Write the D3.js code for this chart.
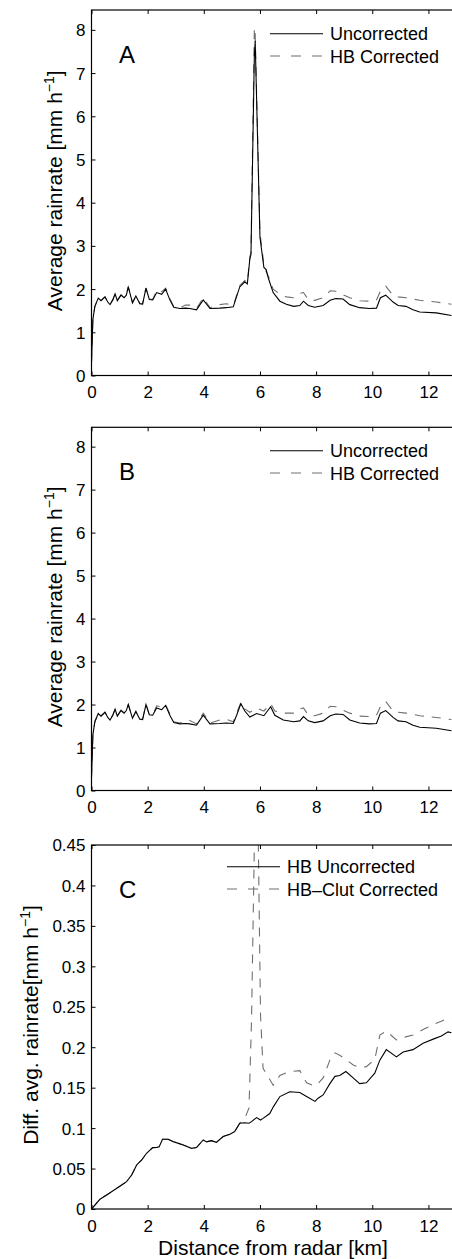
<!DOCTYPE html>
<html>
<head>
<meta charset="utf-8">
<script src="https://cdn.jsdelivr.net/npm/d3@7"></script>
<style>
  html, body { margin: 0; padding: 0; background: #fff; }
  svg { display: block; font-family: "Liberation Sans", Arial, sans-serif; }
</style>
</head>
<body>
<svg id="chart" width="452" height="1259"></svg>
<script>
// ---------------- DATA ----------------
const xTicks = [0, 2, 4, 6, 8, 10, 12];
const yTicksAB = [0, 1, 2, 3, 4, 5, 6, 7, 8];
const yTicksC = [0, 0.05, 0.1, 0.15, 0.2, 0.25, 0.3, 0.35, 0.4, 0.45];

// Panel A
const aDist = [0, 0.05, 0.12, 0.24, 0.34, 0.48, 0.58, 0.66, 0.76, 0.84, 0.92, 1.05, 1.16, 1.24, 1.31, 1.46, 1.58, 1.72, 1.82, 1.94, 2.06, 2.18, 2.32, 2.5, 2.64, 2.79, 2.93, 3.15, 3.35, 3.5, 3.74, 3.98, 4.22, 4.57, 4.8, 5.05, 5.28, 5.46, 5.55, 5.64, 5.68, 5.8, 5.83, 6.0, 6.06, 6.14, 6.22, 6.3, 6.47, 6.71, 6.94, 7.2, 7.42, 7.55, 7.72, 7.95, 8.25, 8.5, 8.7, 8.96, 9.2, 9.55, 9.9, 10.15, 10.29, 10.48, 10.74, 10.92, 11.2, 11.45, 11.69, 12.28, 12.82];
const aUncorr = [0.3, 1.3, 1.6, 1.79, 1.73, 1.82, 1.7, 1.64, 1.75, 1.89, 1.73, 1.86, 1.8, 1.86, 2.05, 1.68, 1.84, 1.66, 1.65, 2.02, 1.76, 1.75, 1.92, 1.88, 2.0, 1.75, 1.58, 1.55, 1.56, 1.55, 1.52, 1.75, 1.55, 1.56, 1.57, 1.59, 2.05, 2.17, 2.12, 2.7, 2.8, 7.4, 7.75, 3.2, 2.9, 2.5, 2.45, 2.25, 1.92, 1.72, 1.65, 1.6, 1.62, 1.72, 1.62, 1.58, 1.62, 1.74, 1.78, 1.77, 1.64, 1.57, 1.55, 1.56, 1.8, 1.86, 1.7, 1.62, 1.6, 1.52, 1.47, 1.45, 1.39];
const aCorr = [0.3, 1.3, 1.6, 1.79, 1.74, 1.82, 1.7, 1.65, 1.76, 1.89, 1.74, 1.87, 1.81, 1.87, 2.05, 1.69, 1.84, 1.67, 1.66, 2.03, 1.77, 1.76, 1.97, 1.94, 2.02, 1.78, 1.6, 1.57, 1.63, 1.63, 1.55, 1.8, 1.57, 1.64, 1.66, 1.62, 2.08, 2.2, 2.15, 2.75, 2.85, 8.05, 7.9, 3.3, 3.0, 2.55, 2.4, 2.3, 2.0, 1.88, 1.82, 1.8, 1.9, 1.92, 1.76, 1.74, 1.8, 1.96, 1.95, 1.87, 1.8, 1.73, 1.72, 1.75, 1.95, 2.07, 1.85, 1.82, 1.8, 1.77, 1.74, 1.7, 1.65];

// Panel B
const bDist = [0, 0.05, 0.12, 0.24, 0.34, 0.48, 0.58, 0.66, 0.76, 0.84, 0.92, 1.05, 1.16, 1.24, 1.31, 1.46, 1.58, 1.72, 1.82, 1.94, 2.06, 2.18, 2.32, 2.5, 2.64, 2.79, 2.93, 3.15, 3.35, 3.5, 3.74, 3.98, 4.22, 4.57, 4.8, 5.05, 5.17, 5.32, 5.46, 5.64, 5.88, 6.14, 6.38, 6.53, 6.83, 7.2, 7.42, 7.55, 7.72, 7.95, 8.25, 8.5, 8.7, 8.96, 9.2, 9.55, 9.9, 10.15, 10.29, 10.48, 10.74, 10.92, 11.2, 11.45, 11.69, 12.28, 12.82];
const bUncorr = [0.3, 1.3, 1.6, 1.79, 1.73, 1.82, 1.7, 1.64, 1.75, 1.89, 1.73, 1.86, 1.8, 1.86, 2.0, 1.68, 1.84, 1.66, 1.65, 2.0, 1.76, 1.75, 1.92, 1.88, 1.98, 1.75, 1.58, 1.55, 1.56, 1.55, 1.52, 1.75, 1.55, 1.56, 1.57, 1.56, 1.75, 2.02, 1.85, 1.71, 1.79, 1.74, 1.95, 1.75, 1.64, 1.6, 1.62, 1.72, 1.62, 1.58, 1.62, 1.74, 1.78, 1.77, 1.64, 1.57, 1.55, 1.56, 1.8, 1.86, 1.7, 1.62, 1.6, 1.52, 1.47, 1.45, 1.39];
const bCorr = [0.3, 1.3, 1.6, 1.79, 1.74, 1.82, 1.7, 1.65, 1.76, 1.89, 1.74, 1.87, 1.81, 1.87, 2.0, 1.69, 1.84, 1.67, 1.66, 2.01, 1.77, 1.76, 1.97, 1.94, 2.0, 1.78, 1.6, 1.57, 1.63, 1.63, 1.55, 1.8, 1.57, 1.64, 1.66, 1.6, 1.8, 2.05, 1.9, 1.82, 1.92, 1.85, 2.02, 1.85, 1.8, 1.8, 1.9, 1.92, 1.76, 1.74, 1.8, 1.96, 1.95, 1.87, 1.8, 1.73, 1.72, 1.75, 1.95, 2.07, 1.85, 1.82, 1.8, 1.77, 1.74, 1.7, 1.65];

// Panel C
const cDist = [0, 0.3, 0.54, 0.9, 1.25, 1.43, 1.61, 1.79, 1.96, 2.18, 2.32, 2.41, 2.53, 2.73, 2.91, 3.27, 3.56, 3.74, 3.98, 4.1, 4.27, 4.45, 4.69, 4.93, 5.1, 5.28, 5.46, 5.61, 5.7, 5.88, 6.02, 6.11, 6.35, 6.47, 6.71, 7.06, 7.42, 7.66, 7.96, 8.07, 8.25, 8.49, 8.67, 8.84, 9.06, 9.32, 9.55, 9.79, 10.09, 10.27, 10.5, 10.86, 11.1, 11.45, 11.81, 12.17, 12.46, 12.7, 12.82];
const cUncorr = [0, 0.012, 0.0173, 0.0256, 0.0338, 0.042, 0.0545, 0.0606, 0.0689, 0.0759, 0.076, 0.077, 0.0863, 0.0863, 0.0833, 0.0792, 0.075, 0.0759, 0.0854, 0.083, 0.0845, 0.0825, 0.0895, 0.0924, 0.0957, 0.106, 0.1066, 0.106, 0.108, 0.113, 0.11, 0.112, 0.118, 0.126, 0.139, 0.145, 0.144, 0.139, 0.133, 0.137, 0.141, 0.155, 0.164, 0.165, 0.17, 0.162, 0.155, 0.156, 0.168, 0.184, 0.197, 0.188, 0.194, 0.197, 0.205, 0.21, 0.214, 0.219, 0.218];
const cCorr = [0, 0.012, 0.0173, 0.0256, 0.0338, 0.042, 0.0545, 0.0606, 0.0689, 0.0759, 0.076, 0.077, 0.0863, 0.0863, 0.0833, 0.0792, 0.075, 0.0759, 0.0854, 0.083, 0.0845, 0.0825, 0.0895, 0.0924, 0.0957, 0.106, 0.112, 0.125, 0.234, 0.62, 0.24, 0.174, 0.16, 0.153, 0.165, 0.17, 0.171, 0.156, 0.152, 0.155, 0.162, 0.184, 0.193, 0.19, 0.185, 0.178, 0.175, 0.176, 0.185, 0.215, 0.22, 0.209, 0.212, 0.215, 0.222, 0.228, 0.232, 0.236, 0.235];

const legendAB = ["Uncorrected", "HB Corrected"];
const legendC = ["HB Uncorrected", "HB\u2013Clut Corrected"];

// ---------------- DRAW ----------------
const svg = d3.select("#chart");
const FONT = '"Liberation Sans", Arial, sans-serif';
const GRAY = "#6f6f6f";
const DASH = "9,8";

const x = d3.scaleLinear().domain([0, 13]).range([91.5, 456.5]);

const panels = [
  { id: "A", top: 10, bottom: 375.5, yDomain: [0, 8.46], yTicks: yTicksAB, fmt: d3.format("d"),
    dist: aDist, s1: aUncorr, s2: aCorr, legend: legendAB, legX: 270, legY: 33.7,
    ylabel: ["Average rainrate [mm h", "]"], ylabelX: 62, letterY: 62.7 },
  { id: "B", top: 427.3, bottom: 790.5, yDomain: [0, 8.45], yTicks: yTicksAB, fmt: d3.format("d"),
    dist: bDist, s1: bUncorr, s2: bCorr, legend: legendAB, legX: 270, legY: 450.7,
    ylabel: ["Average rainrate [mm h", "]"], ylabelX: 62, letterY: 480 },
  { id: "C", top: 845, bottom: 1209, yDomain: [0, 0.45], yTicks: yTicksC, fmt: d => String(+d.toFixed(2)),
    dist: cDist, s1: cUncorr, s2: cCorr, legend: legendC, legX: 227, legY: 866.7,
    ylabel: ["Diff. avg. rainrate[mm h", "]"], ylabelX: 38, letterY: 898 }
];

panels.forEach((p, i) => {
  const y = d3.scaleLinear().domain(p.yDomain).range([p.bottom, p.top]);
  const g = svg.append("g");
  const x0 = x.range()[0], x1 = x.range()[1];

  // clip
  const clipId = "clip" + i;
  svg.append("clipPath").attr("id", clipId).append("rect")
    .attr("x", x0).attr("y", p.top).attr("width", x1 - x0).attr("height", p.bottom - p.top);

  // axes
  const xb = g.append("g").attr("transform", `translate(0,${p.bottom})`)
    .call(d3.axisBottom(x).tickValues(xTicks).tickSizeInner(-4).tickSizeOuter(0).tickPadding(10.5).tickFormat(d3.format("d")));
  const xt = g.append("g").attr("transform", `translate(0,${p.top})`)
    .call(d3.axisTop(x).tickValues(xTicks).tickSizeInner(-4).tickSizeOuter(0).tickFormat(""));
  const yl = g.append("g").attr("transform", `translate(${x0},0)`)
    .call(d3.axisLeft(y).tickValues(p.yTicks).tickSizeInner(-4).tickSizeOuter(0).tickPadding(6).tickFormat(p.fmt));
  [xb, xt, yl].forEach(a => {
    a.select(".domain").remove();
    a.selectAll("line").attr("stroke", "#000").attr("stroke-width", 1);
    a.selectAll("text").attr("font-size", 17).attr("font-family", FONT).attr("fill", "#000");
  });
  yl.selectAll("text").attr("dy", "0.35em");

  // lines
  const line = d3.line().x(d => x(d[0])).y(d => y(d[1]));
  const d1 = p.dist.map((d, k) => [d, p.s1[k]]);
  const d2 = p.dist.map((d, k) => [d, p.s2[k]]);
  const lg = g.append("g").attr("clip-path", `url(#${clipId})`);
  lg.append("path").datum(d2).attr("d", line).attr("fill", "none")
    .attr("stroke", GRAY).attr("stroke-width", 1.1).attr("stroke-dasharray", DASH);
  lg.append("path").datum(d1).attr("d", line).attr("fill", "none")
    .attr("stroke", "#000").attr("stroke-width", 1.1);

  // box
  g.append("rect").attr("x", x0).attr("y", p.top).attr("width", x1 - x0).attr("height", p.bottom - p.top)
    .attr("fill", "none").attr("stroke", "#000").attr("stroke-width", 1.2);

  // panel letter
  g.append("text").attr("x", 119).attr("y", p.letterY).text(p.id)
    .attr("font-size", 24).attr("font-family", FONT);

  // legend
  const lx0 = p.legX, lx1 = p.legX + 53, ty = p.legY;
  g.append("line").attr("x1", lx0).attr("x2", lx1).attr("y1", ty).attr("y2", ty)
    .attr("stroke", "#000").attr("stroke-width", 1.1);
  g.append("line").attr("x1", lx0).attr("x2", lx1).attr("y1", ty + 22.3).attr("y2", ty + 22.3)
    .attr("stroke", GRAY).attr("stroke-width", 1.1).attr("stroke-dasharray", "10,11");
  g.append("text").attr("x", lx1 + 7).attr("y", ty + 6.3).text(p.legend[0])
    .attr("font-size", 18).attr("font-family", FONT);
  g.append("text").attr("x", lx1 + 7).attr("y", ty + 28.8).text(p.legend[1])
    .attr("font-size", 18).attr("font-family", FONT);

  // y label
  const cy = (p.top + p.bottom) / 2 - 2;
  const t = g.append("text")
    .attr("transform", `translate(${p.ylabelX},${cy}) rotate(-90)`)
    .attr("text-anchor", "middle").attr("font-size", 21).attr("font-family", FONT);
  t.append("tspan").text(p.ylabel[0]);
  t.append("tspan").text("\u22121").attr("font-size", 14).attr("dy", "-0.55em");
  t.append("tspan").text(p.ylabel[1]).attr("dy", "0.37em");
});

// x label
svg.append("text").attr("x", 273).attr("y", 1255).attr("text-anchor", "middle")
  .attr("font-size", 21).attr("font-family", FONT).text("Distance from radar [km]");
</script>
</body>
</html>
